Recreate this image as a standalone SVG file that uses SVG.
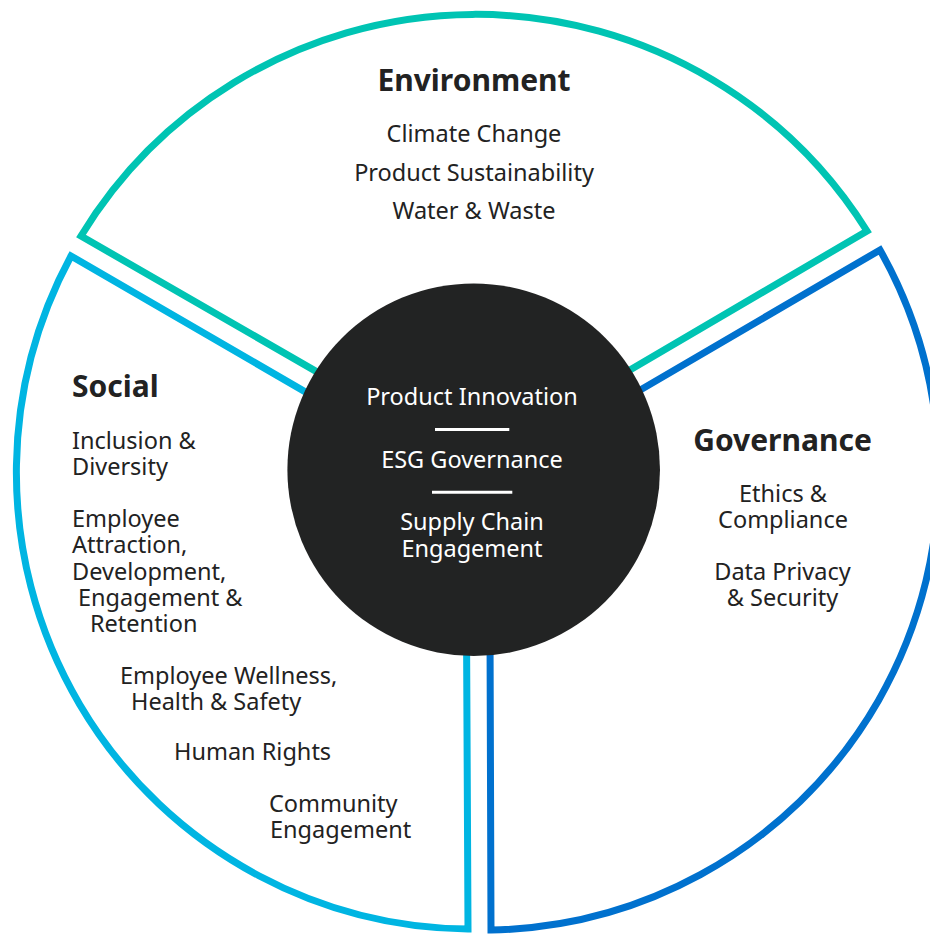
<svg xmlns="http://www.w3.org/2000/svg" width="930" height="935" viewBox="0 0 930 935">
  <style>
    .sector { fill: #ffffff; stroke-width: 7; stroke-linejoin: miter; stroke-miterlimit: 10; }
    .env { stroke: #00C4B3; }
    .soc { stroke: #00B5E2; }
    .gov { stroke: #0071CE; }
    .title { font-family: "Noto Sans", "Open Sans", "DejaVu Sans", sans-serif; font-weight: 700; font-size: 30px; fill: #222222; }
    .item { font-family: "Noto Sans", "Open Sans", "DejaVu Sans", sans-serif; font-weight: 400; font-size: 23.5px; fill: #222222; }
    .core-text { font-family: "Noto Sans", "Open Sans", "DejaVu Sans", sans-serif; font-weight: 400; font-size: 23.5px; fill: #ffffff; text-anchor: middle; }
    .mid { text-anchor: middle; }
    .divider { stroke: #ffffff; stroke-width: 3; }
  </style>
  <rect x="0" y="0" width="930" height="935" fill="#ffffff"/>

  <g id="environment">
    <path class="sector env" d="M 473.3 461.9 L 81 236 A 462 462 0 0 1 867 231 Z"/>
    <text class="title mid" x="474" y="91">Environment</text>
    <text class="item mid" x="474" y="141.5">Climate Change</text>
    <text class="item mid" x="474" y="180.5">Product Sustainability</text>
    <text class="item mid" x="474" y="219">Water &amp; Waste</text>
  </g>

  <g id="social">
    <path class="sector soc" d="M 465.8 485 L 468 929 A 456.5 456.5 0 0 1 71 256 Z"/>
    <text class="title" x="72" y="397">Social</text>
    <text class="item" x="72" y="449">Inclusion &amp;</text>
    <text class="item" x="72" y="475">Diversity</text>
    <text class="item" x="72" y="527">Employee</text>
    <text class="item" x="72" y="553">Attraction,</text>
    <text class="item" x="72" y="579.5">Development,</text>
    <text class="item" x="78" y="606">Engagement &amp;</text>
    <text class="item" x="90" y="632">Retention</text>
    <text class="item" x="120" y="684">Employee Wellness,</text>
    <text class="item" x="131" y="710">Health &amp; Safety</text>
    <text class="item" x="174" y="760">Human Rights</text>
    <text class="item" x="269" y="812">Community</text>
    <text class="item" x="270" y="838">Engagement</text>
  </g>

  <g id="governance">
    <path class="sector gov" d="M 489.5 478 L 880 250 A 456.2 456.2 0 0 1 491 930 Z"/>
    <text class="title mid" x="782.5" y="450.5">Governance</text>
    <text class="item mid" x="783" y="502.3">Ethics &amp;</text>
    <text class="item mid" x="783" y="528.3">Compliance</text>
    <text class="item mid" x="782.5" y="580">Data Privacy</text>
    <text class="item mid" x="782.5" y="606">&amp; Security</text>
  </g>

  <g id="core">
    <circle cx="473.7" cy="469.7" r="186.3" fill="#222323"/>
    <text class="core-text" x="472" y="405">Product Innovation</text>
    <line class="divider" x1="435" y1="429.5" x2="509.3" y2="429.5"/>
    <text class="core-text" x="472" y="467.7">ESG Governance</text>
    <line class="divider" x1="432" y1="492.3" x2="512.3" y2="492.3"/>
    <text class="core-text" x="472" y="530">Supply Chain</text>
    <text class="core-text" x="472" y="556.7">Engagement</text>
  </g>

  <g id="connectors"/>
</svg>
